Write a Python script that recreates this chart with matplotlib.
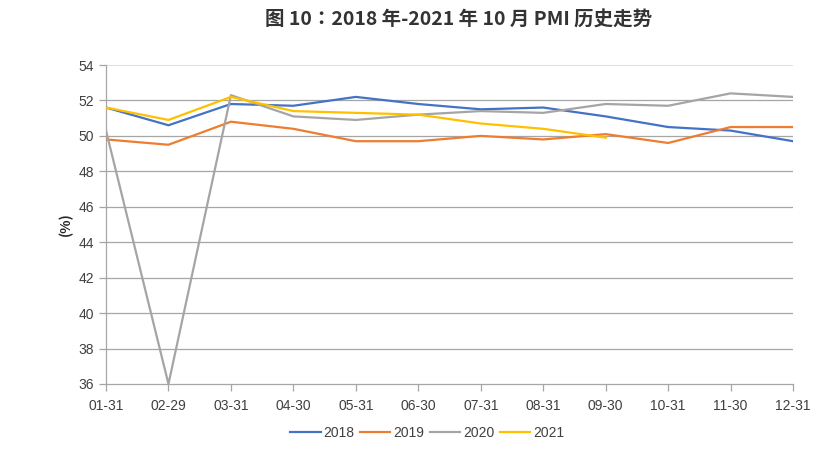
import matplotlib.pyplot as plt

plt.rcParams['font.family'] = ['Liberation Sans Narrow', 'Liberation Sans', 'DejaVu Sans']

# month-end labels on the x axis
months = ['01-31', '02-29', '03-31', '04-30', '05-31', '06-30',
          '07-31', '08-31', '09-30', '10-31', '11-30', '12-31']

pmi_2018 = [51.6, 50.6, 51.8, 51.7, 52.2, 51.8, 51.5, 51.6, 51.1, 50.5, 50.3, 49.7]
pmi_2019 = [49.8, 49.5, 50.8, 50.4, 49.7, 49.7, 50.0, 49.8, 50.1, 49.6, 50.5, 50.5]
pmi_2020 = [50.3, 36.0, 52.3, 51.1, 50.9, 51.2, 51.4, 51.3, 51.8, 51.7, 52.4, 52.2]
pmi_2021 = [51.6, 50.9, 52.2, 51.4, 51.3, 51.2, 50.7, 50.4, 49.9]

series = [('2018', pmi_2018, '#4472C4'),
          ('2019', pmi_2019, '#ED7D31'),
          ('2020', pmi_2020, '#A5A5A5'),
          ('2021', pmi_2021, '#FFC000')]

fig = plt.figure(figsize=(8.23, 4.49), dpi=100)
ax = fig.add_axes([0.1288, 0.1448, 0.8348, 0.7104])

x = list(range(len(months)))
for name, vals, color in series:
    ax.plot(x[:len(vals)], vals, color=color, lw=1.6, label=name, zorder=3)

ax.set_xlim(0, len(months) - 1)
ax.set_ylim(36, 54)
ax.set_yticks(range(36, 55, 2))
ax.set_xticks(x)
ax.set_xticklabels(months)

# horizontal grid, top line lighter
for v in range(38, 54, 2):
    ax.axhline(v, color='#A6A6A6', lw=0.9, zorder=1)
ax.axhline(54, color='#D9D9D9', lw=1.2, zorder=1)

for side in ['top', 'right']:
    ax.spines[side].set_visible(False)
for side in ['left', 'bottom']:
    ax.spines[side].set_color('#A6A6A6')
    ax.spines[side].set_linewidth(0.9)

ax.tick_params(axis='both', colors='#A6A6A6', labelcolor='#404040',
               labelsize=10, length=5, width=0.9, direction='out')
ax.tick_params(axis='x', pad=6)

ax.set_ylabel('(%)', fontsize=10, fontweight='bold', color='#262626',
              family=['Noto Sans CJK SC', 'DejaVu Sans'], labelpad=4)

fig.text(0.557, 0.955, '图 10：2018 年-2021 年 10 月 PMI 历史走势',
         ha='center', va='center', fontsize=14, fontweight='bold',
         color='#333333', family=['Noto Sans CJK TC', 'DejaVu Sans'])

fig.legend(loc='center', bbox_to_anchor=(0.519, 0.035), ncol=4,
           frameon=False, fontsize=10, handlelength=2.2, columnspacing=0.4,
           handletextpad=0.2, labelcolor='#404040')

fig.savefig('out.png', dpi=100)
